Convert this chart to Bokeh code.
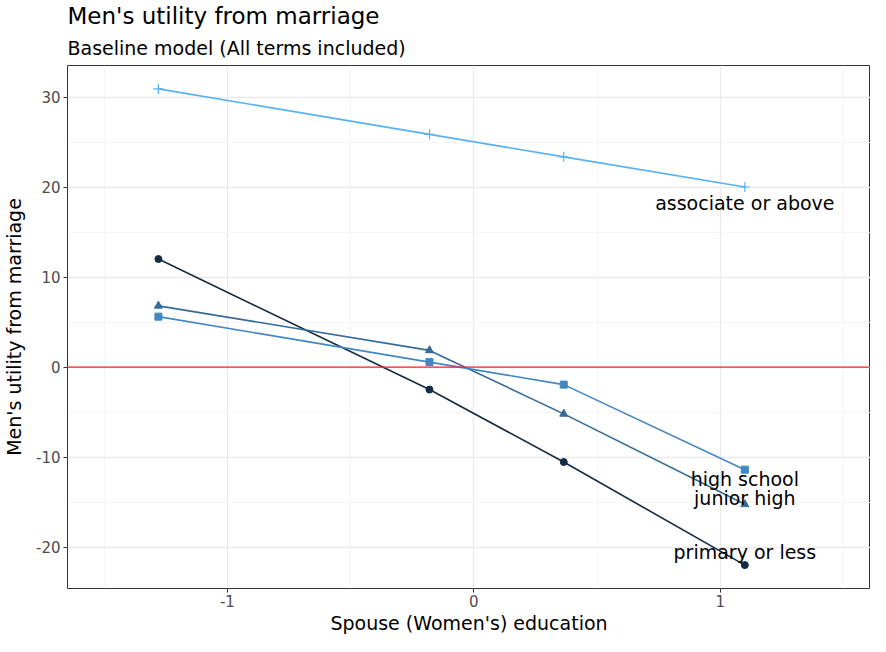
from bokeh.plotting import figure
from bokeh.models import FixedTicker, Span, Title, Range1d
from bokeh.core.properties import value
from bokeh.embed import file_html
from bokeh.resources import INLINE

# ---- data ----
x_edu = [-1.28, -0.18, 0.365, 1.10]
groups = ["primary or less", "junior high", "high school", "associate or above"]
primary = [12.0, -2.5, -10.55, -22.0]
junior = [6.8, 1.85, -5.2, -15.25]
highschool = [5.6, 0.55, -1.95, -11.4]
associate = [30.9, 25.85, 23.35, 20.0]
label_y = [-20.5, -14.6, -12.4, 18.2]
colors = ["#132B43", "#336A98", "#4287C3", "#56B1F7"]
markers = ["circle", "triangle", "square", "cross"]
series = [primary, junior, highschool, associate]

FONT = "DejaVu Sans"

p = figure(width=870, height=636, output_backend="svg", toolbar_location=None,
           x_range=Range1d(-1.649, 1.61), y_range=Range1d(-24.6, 33.5),
           min_border_left=63, min_border_right=0, min_border_bottom=0, min_border_top=10)
p.background_fill_color = "white"
p.border_fill_color = "white"
p.outline_line_color = "#333333"
p.outline_line_width = 1

p.title.text = "Men's utility from marriage"
p.title.text_font = FONT
p.title.text_font_size = "23px"
p.title.text_font_style = "normal"
p.title.text_color = "#000000"
p.title.offset = 0
p.title.standoff = 0
p.add_layout(Title(text="Baseline model (All terms included)", text_font=FONT, text_font_size="19px",
                   text_font_style="normal", text_color="#000000", offset=0, standoff=13), "above")

# grids
p.xaxis.ticker = FixedTicker(ticks=[-1, 0, 1], minor_ticks=[-1.5, -0.5, 0.5, 1.5])
p.yaxis.ticker = FixedTicker(ticks=[-20, -10, 0, 10, 20, 30], minor_ticks=[-15, -5, 5, 15, 25])
for g in (p.xgrid, p.ygrid):
    g.grid_line_color = "#EBEBEB"
    g.grid_line_width = 1.3
    g.minor_grid_line_color = "#F2F2F2"
    g.minor_grid_line_width = 0.8

for ax in (p.xaxis, p.yaxis):
    ax.axis_line_color = None
    ax.major_tick_line_color = "#333333"
    ax.major_tick_out = 4
    ax.major_tick_in = 0
    ax.minor_tick_line_color = None
    ax.major_label_text_font = FONT
    ax.major_label_text_font_size = "15px"
    ax.major_label_text_color = "#4D4D4D"
    ax.axis_label_text_font = FONT
    ax.axis_label_text_font_size = "19px"
    ax.axis_label_text_font_style = "normal"
    ax.axis_label_text_color = "#000000"

p.xaxis.axis_label = "Spouse (Women's) education"
p.yaxis.axis_label = "Men's utility from marriage"
p.xaxis.major_label_overrides = {-1: "-1", 0: "0", 1: "1"}
p.yaxis.major_label_overrides = {-20: "-20", -10: "-10", 0: "0", 10: "10", 20: "20", 30: "30"}
p.xaxis.axis_label_standoff = 2
p.yaxis.axis_label_standoff = 8
p.xaxis.major_label_standoff = 2
p.yaxis.major_label_standoff = 3

p.add_layout(Span(location=0, dimension="width", line_color="#FF2020", line_width=1.2))

for ys, c, m in zip(series, colors, markers):
    p.line(x_edu, ys, line_color=c, line_width=1.6)
    if m == "cross":
        p.scatter(x_edu, ys, marker=m, size=10, line_color=c, line_width=1.2)
    else:
        p.scatter(x_edu, ys, marker=m, size=7 if m != "triangle" else 8,
                  fill_color=c, line_color=c)

p.text(x=[x_edu[-1]] * 4, y=label_y, text=groups, text_align="center",
       text_baseline="middle", text_font=value(FONT), text_font_size="19px",
       text_color="#000000")

open("out.html", "w").write(file_html(p, INLINE))
